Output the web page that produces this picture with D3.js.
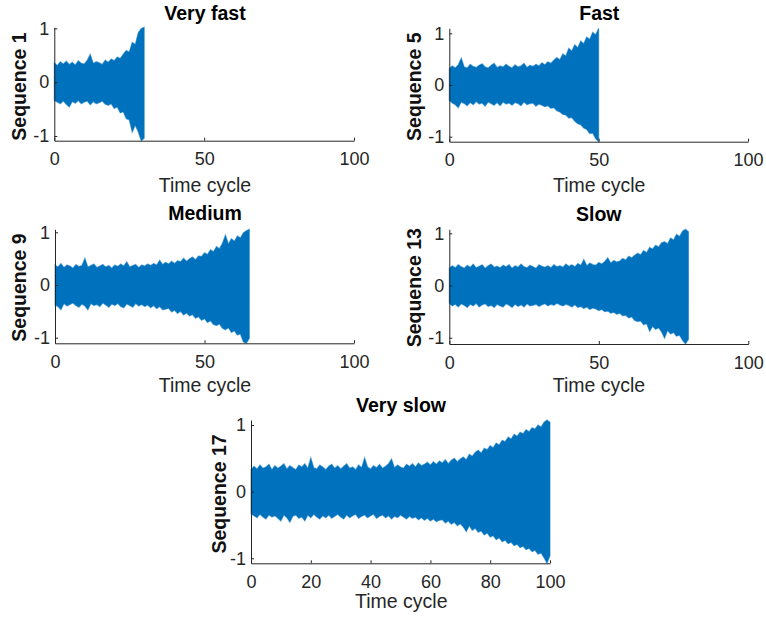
<!DOCTYPE html>
<html>
<head>
<meta charset="utf-8">
<script src="https://cdn.jsdelivr.net/npm/d3@7"></script>
<style>
  html, body { margin: 0; padding: 0; background: #fff; }
  svg { display: block; font-family: "Liberation Sans", Arial, Helvetica, sans-serif; }
</style>
</head>
<body>
<svg id="chart" width="766" height="620"></svg>
<script>
// ---------------- DATA (envelope of each vibration signal, read every 1 time cycle) ----------------
const titles = ["Very fast", "Fast", "Medium", "Slow", "Very slow"];
const yLabels = ["Sequence 1", "Sequence 5", "Sequence 9", "Sequence 13", "Sequence 17"];
const xLabel = "Time cycle";
const xDomain = [0, 100];
const xTicksSmall = [0, 50, 100];
const xTicksLarge = [0, 20, 40, 60, 80, 100];
const yTicks = [-1, 0, 1];

const upper1 = [0.36,0.31,0.38,0.34,0.39,0.33,0.37,0.32,0.40,0.35,0.34,0.41,0.52,0.35,0.38,0.36,0.33,0.41,0.37,0.43,
  0.40,0.47,0.44,0.52,0.59,0.56,0.74,0.70,0.92,1.00,1.02];
const lower1 = [-0.34,-0.37,-0.40,-0.35,-0.41,-0.46,-0.36,-0.39,-0.34,-0.40,-0.37,-0.35,-0.42,-0.36,-0.40,-0.38,-0.35,-0.41,-0.43,-0.40,
  -0.49,-0.46,-0.57,-0.55,-0.68,-0.70,-0.93,-0.80,-0.92,-1.087,-1.04];

const upper2 = [0.32,0.37,0.33,0.39,0.52,0.35,0.33,0.40,0.36,0.34,0.38,0.41,0.35,0.33,0.38,0.42,0.34,0.37,0.35,0.40,
  0.36,0.33,0.39,0.35,0.37,0.42,0.34,0.38,0.36,0.40,0.37,0.43,0.39,0.45,0.42,0.48,0.53,0.49,0.60,0.56,
  0.71,0.66,0.78,0.72,0.85,0.80,0.93,0.88,1.02,0.97,1.097];
const lower2 = [-0.30,-0.35,-0.38,-0.44,-0.33,-0.36,-0.40,-0.34,-0.38,-0.32,-0.37,-0.35,-0.41,-0.33,-0.36,-0.39,-0.34,-0.40,-0.33,-0.37,
  -0.35,-0.39,-0.34,-0.36,-0.40,-0.33,-0.38,-0.36,-0.35,-0.41,-0.37,-0.39,-0.42,-0.40,-0.45,-0.44,-0.50,-0.52,-0.57,-0.58,
  -0.64,-0.63,-0.70,-0.75,-0.77,-0.83,-0.86,-0.94,-0.93,-1.04,-1.097];

const upper3 = [0.38,0.34,0.41,0.33,0.38,0.36,0.32,0.39,0.35,0.37,0.51,0.34,0.37,0.40,0.33,0.36,0.39,0.34,0.37,0.32,
  0.38,0.35,0.40,0.36,0.44,0.34,0.37,0.39,0.33,0.38,0.36,0.40,0.37,0.41,0.38,0.47,0.39,0.43,0.40,0.45,
  0.41,0.46,0.44,0.51,0.45,0.50,0.53,0.48,0.55,0.54,0.61,0.58,0.67,0.63,0.73,0.69,0.79,0.95,0.78,0.88,
  0.83,0.93,0.89,0.99,1.03,1.057];
const lower3 = [-0.38,-0.41,-0.47,-0.35,-0.40,-0.37,-0.34,-0.39,-0.42,-0.36,-0.40,-0.47,-0.35,-0.39,-0.37,-0.41,-0.34,-0.38,-0.42,-0.36,
  -0.39,-0.35,-0.41,-0.43,-0.36,-0.39,-0.42,-0.35,-0.40,-0.37,-0.41,-0.38,-0.43,-0.39,-0.45,-0.41,-0.47,-0.46,-0.44,-0.51,
  -0.48,-0.54,-0.50,-0.57,-0.53,-0.59,-0.56,-0.63,-0.60,-0.67,-0.64,-0.71,-0.68,-0.75,-0.77,-0.74,-0.82,-0.85,-0.81,-0.90,
  -0.87,-0.95,-0.93,-1.08,-1.106,-1.01];

const upper4 = [0.33,0.38,0.34,0.40,0.36,0.33,0.39,0.35,0.41,0.34,0.37,0.40,0.33,0.38,0.41,0.35,0.37,0.34,0.39,0.36,
  0.40,0.33,0.38,0.35,0.41,0.36,0.34,0.39,0.36,0.33,0.40,0.37,0.35,0.38,0.34,0.40,0.36,0.38,0.35,0.41,
  0.37,0.40,0.36,0.42,0.39,0.50,0.38,0.43,0.40,0.39,0.44,0.41,0.46,0.53,0.43,0.48,0.45,0.47,0.52,0.49,
  0.56,0.53,0.58,0.62,0.59,0.67,0.63,0.73,0.70,0.77,0.74,0.82,0.84,0.80,0.91,0.87,0.98,0.94,1.04,1.077,
  1.03];
const lower4 = [-0.34,-0.39,-0.36,-0.41,-0.35,-0.38,-0.42,-0.36,-0.39,-0.34,-0.41,-0.37,-0.35,-0.40,-0.38,-0.42,-0.36,-0.39,-0.41,-0.35,
  -0.38,-0.42,-0.36,-0.40,-0.37,-0.41,-0.35,-0.39,-0.38,-0.36,-0.40,-0.37,-0.35,-0.39,-0.36,-0.38,-0.34,-0.37,-0.39,-0.36,
  -0.38,-0.41,-0.37,-0.42,-0.40,-0.44,-0.41,-0.46,-0.43,-0.45,-0.48,-0.46,-0.50,-0.49,-0.53,-0.51,-0.55,-0.53,-0.58,-0.57,
  -0.62,-0.60,-0.67,-0.69,-0.68,-0.75,-0.73,-0.88,-0.78,-0.84,-0.81,-0.89,-1.01,-0.86,-0.93,-0.90,-0.97,-0.95,-1.05,-1.12,
  -1.03];

const upper5 = [0.33,0.38,0.34,0.40,0.35,0.37,0.41,0.33,0.39,0.35,0.38,0.42,0.34,0.39,0.36,0.33,0.40,0.37,0.42,0.35,
  0.51,0.36,0.34,0.40,0.37,0.33,0.38,0.41,0.35,0.39,0.34,0.38,0.42,0.35,0.37,0.33,0.40,0.36,0.51,0.37,
  0.34,0.39,0.36,0.41,0.35,0.38,0.42,0.49,0.36,0.40,0.37,0.35,0.41,0.38,0.42,0.37,0.43,0.39,0.41,0.44,
  0.40,0.45,0.41,0.46,0.43,0.48,0.42,0.47,0.50,0.45,0.49,0.52,0.48,0.56,0.53,0.59,0.62,0.58,0.65,0.63,
  0.69,0.66,0.73,0.70,0.77,0.75,0.82,0.79,0.86,0.83,0.89,0.87,0.93,0.90,0.96,0.94,1.00,0.97,1.04,1.075,
  1.04];
const lower5 = [-0.33,-0.36,-0.39,-0.34,-0.38,-0.41,-0.35,-0.38,-0.36,-0.40,-0.44,-0.35,-0.39,-0.46,-0.37,-0.35,-0.40,-0.38,-0.44,-0.35,
  -0.39,-0.34,-0.38,-0.41,-0.36,-0.39,-0.35,-0.40,-0.37,-0.34,-0.38,-0.41,-0.35,-0.39,-0.36,-0.34,-0.40,-0.37,-0.35,-0.39,
  -0.36,-0.34,-0.40,-0.37,-0.35,-0.39,-0.36,-0.41,-0.37,-0.39,-0.35,-0.38,-0.41,-0.37,-0.40,-0.38,-0.42,-0.39,-0.43,-0.40,
  -0.44,-0.41,-0.45,-0.43,-0.42,-0.47,-0.44,-0.49,-0.46,-0.51,-0.48,-0.53,-0.60,-0.51,-0.58,-0.55,-0.61,-0.59,-0.65,-0.62,
  -0.68,-0.66,-0.72,-0.69,-0.75,-0.73,-0.78,-0.76,-0.81,-0.79,-0.84,-0.82,-0.87,-0.85,-0.90,-0.88,-0.94,-0.92,-0.99,-1.075,
  -0.96];

const uppers = [upper1, upper2, upper3, upper4, upper5];
const lowers = [lower1, lower2, lower3, lower4, lower5];

const layout = [
  {x0: 54.3, x1: 354,   y0: 27.3,  y1: 140.7, ticks: xTicksSmall, titleX: 205,   titleY: 19.5,  labX: 205,   labY: 191.7, ylabX: 26,    ylabY: 86.5},
  {x0: 449.3, x1: 748,  y0: 28.3,  y1: 141.7, ticks: xTicksSmall, titleX: 599.3, titleY: 19.5,  labX: 599.2, labY: 191.7, ylabX: 420.7, ylabY: 86.7},
  {x0: 55,   x1: 354,   y0: 229.3, y1: 343.3, ticks: xTicksSmall, titleX: 205,   titleY: 220.2, labX: 205,   labY: 391.7, ylabX: 26,    ylabY: 287.5},
  {x0: 449.3, x1: 748.3, y0: 229.3, y1: 344,  ticks: xTicksSmall, titleX: 598.8, titleY: 220.5, labX: 599,   labY: 391.7, ylabX: 420.7, ylabY: 287.7},
  {x0: 251,  x1: 550,   y0: 420,   y1: 563.3, ticks: xTicksLarge, titleX: 401,   titleY: 411.7, labX: 401.3, labY: 608.3, ylabX: 226,   ylabY: 494}
];

const BLUE = "#0072BD";
const AXIS = "#262626";
const svg = d3.select("#chart");

layout.forEach((L, i) => {
  const up = uppers[i], lo = lowers[i];
  const samples = up.map((u, k) => ({t: k, hi: u, lo: lo[k]}));
  const x = d3.scaleLinear().domain(xDomain).range([L.x0, L.x1]);
  const yExt = [d3.min(lo), d3.max(up)];
  const y = d3.scaleLinear().domain(yExt).range([L.y1, L.y0]);

  const g = svg.append("g");

  // signal band (dense oscillation drawn as its envelope)
  const area = d3.area()
    .x(d => x(d.t))
    .y0(d => y(d.lo))
    .y1(d => y(d.hi))
    .curve(d3.curveLinear);
  g.append("path")
    .datum(samples)
    .attr("d", area)
    .attr("fill", BLUE)
    .attr("stroke", BLUE)
    .attr("stroke-opacity", 0.5)
    .attr("stroke-width", 1.2)
    .attr("stroke-linejoin", "miter");

  // x axis
  const xAxis = d3.axisBottom(x)
    .tickValues(L.ticks)
    .tickFormat(d => String(d))
    .tickSizeInner(-3)
    .tickSizeOuter(0)
    .tickPadding(12);
  const gx = g.append("g").attr("transform", `translate(0,${L.y1})`).call(xAxis);
  // y axis
  const yAxis = d3.axisLeft(y)
    .tickValues(yTicks)
    .tickFormat(d => String(d))
    .tickSizeInner(-3)
    .tickSizeOuter(0)
    .tickPadding(5);
  const gy = g.append("g").attr("transform", `translate(${L.x0},0)`).call(yAxis);

  [gx, gy].forEach(a => {
    a.select(".domain").attr("stroke", AXIS).attr("stroke-width", 1);
    a.selectAll(".tick line").attr("stroke", AXIS).attr("stroke-width", 1);
    a.selectAll(".tick text")
      .attr("fill", AXIS)
      .style("font-size", "18px")
      .style("font-family", "'Liberation Sans', Arial, sans-serif");
  });

  // title
  g.append("text")
    .attr("x", L.titleX).attr("y", L.titleY)
    .attr("text-anchor", "middle")
    .style("font-size", "19.5px").style("font-weight", "bold")
    .attr("fill", "#000")
    .text(titles[i]);

  // x label
  g.append("text")
    .attr("x", L.labX).attr("y", L.labY)
    .attr("text-anchor", "middle")
    .style("font-size", "19.5px")
    .attr("fill", AXIS)
    .text(xLabel);

  // y label
  g.append("text")
    .attr("transform", `translate(${L.ylabX},${L.ylabY}) rotate(-90)`)
    .attr("text-anchor", "middle")
    .style("font-size", "19.5px").style("font-weight", "bold")
    .attr("fill", "#111")
    .text(yLabels[i]);
});
</script>
</body>
</html>
